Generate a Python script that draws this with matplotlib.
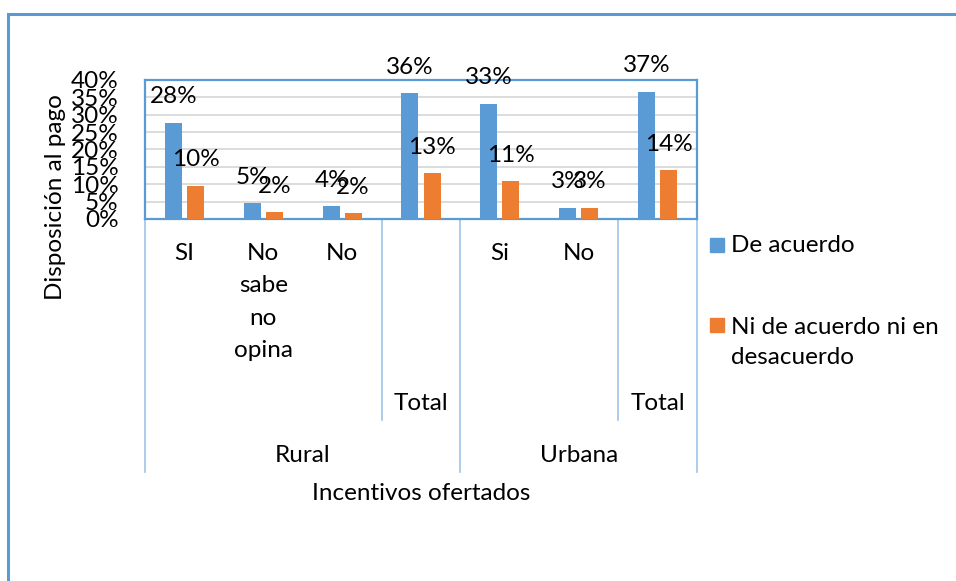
import numpy as np
import matplotlib
matplotlib.use("Agg")
import matplotlib.pyplot as plt
from matplotlib.patches import Rectangle
from matplotlib.transforms import blended_transform_factory
from matplotlib.ticker import PercentFormatter

plt.rcParams['font.family'] = ['Lato', 'DejaVu Sans']

# Data (share of respondents)
categories = ["SI", "No\nsabe\nno\nopina", "No", "Total", "Si", "No", "Total"]
groups = ["Rural", "Urbana"]
de_acuerdo = [0.277, 0.046, 0.036, 0.362, 0.331, 0.032, 0.366]
ni_de_acuerdo = [0.096, 0.020, 0.016, 0.131, 0.108, 0.032, 0.141]
series_names = ["De acuerdo", "Ni de acuerdo ni en\ndesacuerdo"]

BLUE = '#5b9bd5'
ORANGE = '#ed7d31'
LINE = '#9dc3e6'
W, H = 956, 581
FS = 17.5

fig = plt.figure(figsize=(W / 100, H / 100), dpi=100)
ax = fig.add_axes([145 / W, 1 - 219 / H, (697 - 145) / W, (219 - 80) / H])

x = np.arange(len(categories))
bw = 0.215
ax.bar(x - 0.14, de_acuerdo, bw, color=BLUE, zorder=3)
ax.bar(x + 0.14, ni_de_acuerdo, bw, color=ORANGE, zorder=3)

# data labels sit well above the bars, as in the original
for xi, v in zip(x - 0.14, de_acuerdo):
    ax.annotate(f"{v * 100:.0f}%", (xi, v), xytext=(0, 26), textcoords='offset pixels',
                ha='center', va='center', fontsize=FS, annotation_clip=False)
for xi, v in zip(x + 0.14, ni_de_acuerdo):
    ax.annotate(f"{v * 100:.0f}%", (xi, v), xytext=(0, 26), textcoords='offset pixels',
                ha='center', va='center', fontsize=FS, annotation_clip=False)

ax.set_xlim(-0.5, len(categories) - 0.5)
ax.set_ylim(0, 0.40)
ax.set_yticks(np.arange(0, 0.401, 0.05))
ax.yaxis.set_major_formatter(PercentFormatter(1.0, decimals=0))
ax.tick_params(axis='y', length=0, pad=19, labelsize=FS)
ax.set_xticks([])
ax.grid(axis='y', color='#d9d9d9', lw=1.3, zorder=0)
for s in ax.spines.values():
    s.set_color(BLUE)
    s.set_linewidth(1.6)

# multi-level category axis
trans = blended_transform_factory(ax.transData, fig.transFigure)
fy = lambda py: 1 - py / H
for xi, lab in zip(x, categories):
    if lab == "Total":
        ax.text(xi, fy(403), lab, transform=trans, ha='center', va='center', fontsize=FS)
    else:
        ax.text(xi, fy(243), lab, transform=trans, ha='center', va='top', fontsize=FS,
                linespacing=1.67)
ax.text(1.5, fy(455), groups[0], transform=trans, ha='center', va='center', fontsize=FS)
ax.text(5.0, fy(455), groups[1], transform=trans, ha='center', va='center', fontsize=FS)
for xl in [-0.5, 3.5, 6.5]:
    ax.plot([xl, xl], [fy(219), fy(472)], transform=trans, color=LINE, lw=1.2, clip_on=False)
for xl in [2.5, 5.5]:
    ax.plot([xl, xl], [fy(219), fy(420)], transform=trans, color=LINE, lw=1.2, clip_on=False)

fig.text(55 / W, fy(197), "Disposición al pago", rotation=90, ha='center', va='center', fontsize=FS)
fig.text(421 / W, fy(494), "Incentivos ofertados", ha='center', va='center', fontsize=FS)

# legend, drawn like the Excel one (marker on first line)
fig.add_artist(Rectangle((710 / W, fy(252)), 14 / W, 14 / H, transform=fig.transFigure,
                         color=BLUE))
fig.text(731 / W, fy(245), series_names[0], ha='left', va='center', fontsize=FS)
fig.add_artist(Rectangle((710 / W, fy(332)), 14 / W, 14 / H, transform=fig.transFigure,
                         color=ORANGE))
fig.text(731 / W, fy(342.5), series_names[1], ha='left', va='center', fontsize=FS,
         linespacing=1.5)

# outer chart frame
fig.add_artist(Rectangle((7.5 / W, -0.05), 1.0, fy(14) + 0.05, transform=fig.transFigure,
                         fill=False, edgecolor=BLUE, lw=2.2))

fig.savefig("out.png", dpi=100)
